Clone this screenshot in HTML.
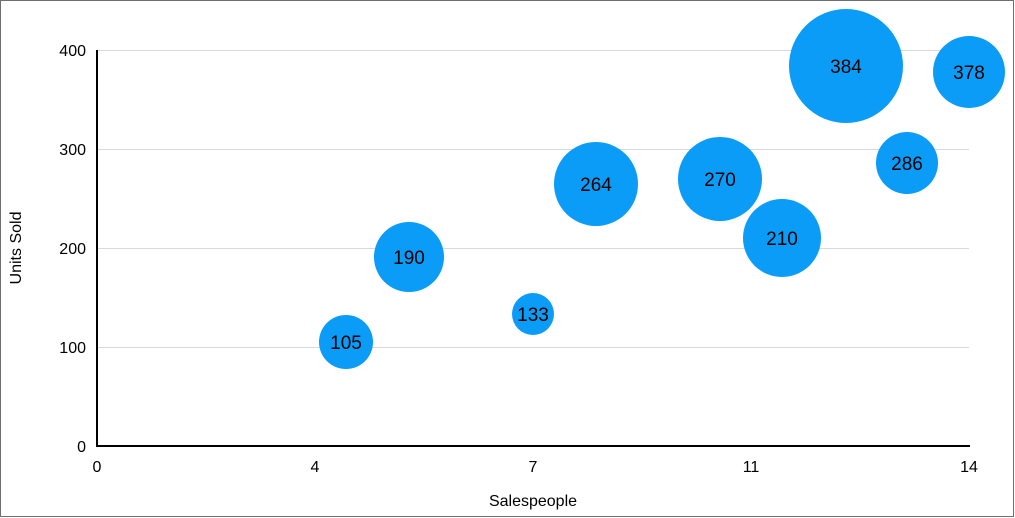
<!DOCTYPE html>
<html><head><meta charset="utf-8"><style>
html,body{margin:0;padding:0;background:#fff;}
svg{display:block;}
text{font-family:"Liberation Sans",Arial,sans-serif;}
</style></head><body>
<svg width="1015" height="518" viewBox="0 0 1015 518" xmlns="http://www.w3.org/2000/svg">
<rect x="0.5" y="0.5" width="1013" height="516" fill="#fff" stroke="#6e6e6e" stroke-width="1"/>
<g stroke="#d9d9d9" stroke-width="1">
<line x1="97" y1="50.5" x2="969" y2="50.5"/>
<line x1="97" y1="149.5" x2="969" y2="149.5"/>
<line x1="97" y1="248.5" x2="969" y2="248.5"/>
<line x1="97" y1="347.5" x2="969" y2="347.5"/>
</g>
<line x1="97" y1="446" x2="970" y2="446" stroke="#000" stroke-width="2"/>
<line x1="97" y1="50" x2="97" y2="447" stroke="#000" stroke-width="2"/>
<g font-size="16" fill="#000" text-anchor="end">
<text x="86" y="56">400</text>
<text x="86" y="155">300</text>
<text x="86" y="254">200</text>
<text x="86" y="353">100</text>
<text x="86" y="452">0</text>
</g>
<g font-size="16" fill="#000" text-anchor="middle">
<text x="97" y="472">0</text>
<text x="315" y="472">4</text>
<text x="533" y="472">7</text>
<text x="751" y="472">11</text>
<text x="969" y="472">14</text>
<text x="533" y="506">Salespeople</text>
<text transform="translate(21,248) rotate(-90)">Units Sold</text>
</g>
<g fill="#0a9cf7">
<circle cx="346" cy="342" r="27"/>
<circle cx="409" cy="257" r="35"/>
<circle cx="533" cy="314" r="21"/>
<circle cx="596" cy="184" r="42"/>
<circle cx="720" cy="179" r="42"/>
<circle cx="782" cy="238" r="39"/>
<circle cx="846" cy="66" r="57"/>
<circle cx="907" cy="163" r="31"/>
<circle cx="969" cy="72" r="36"/>
</g>
<g font-size="19" fill="#000" text-anchor="middle">
<text x="346" y="349">105</text>
<text x="409" y="264">190</text>
<text x="533" y="321">133</text>
<text x="596" y="191">264</text>
<text x="720" y="186">270</text>
<text x="782" y="245">210</text>
<text x="846" y="73">384</text>
<text x="907" y="170">286</text>
<text x="969" y="79">378</text>
</g>
</svg>
</body></html>
